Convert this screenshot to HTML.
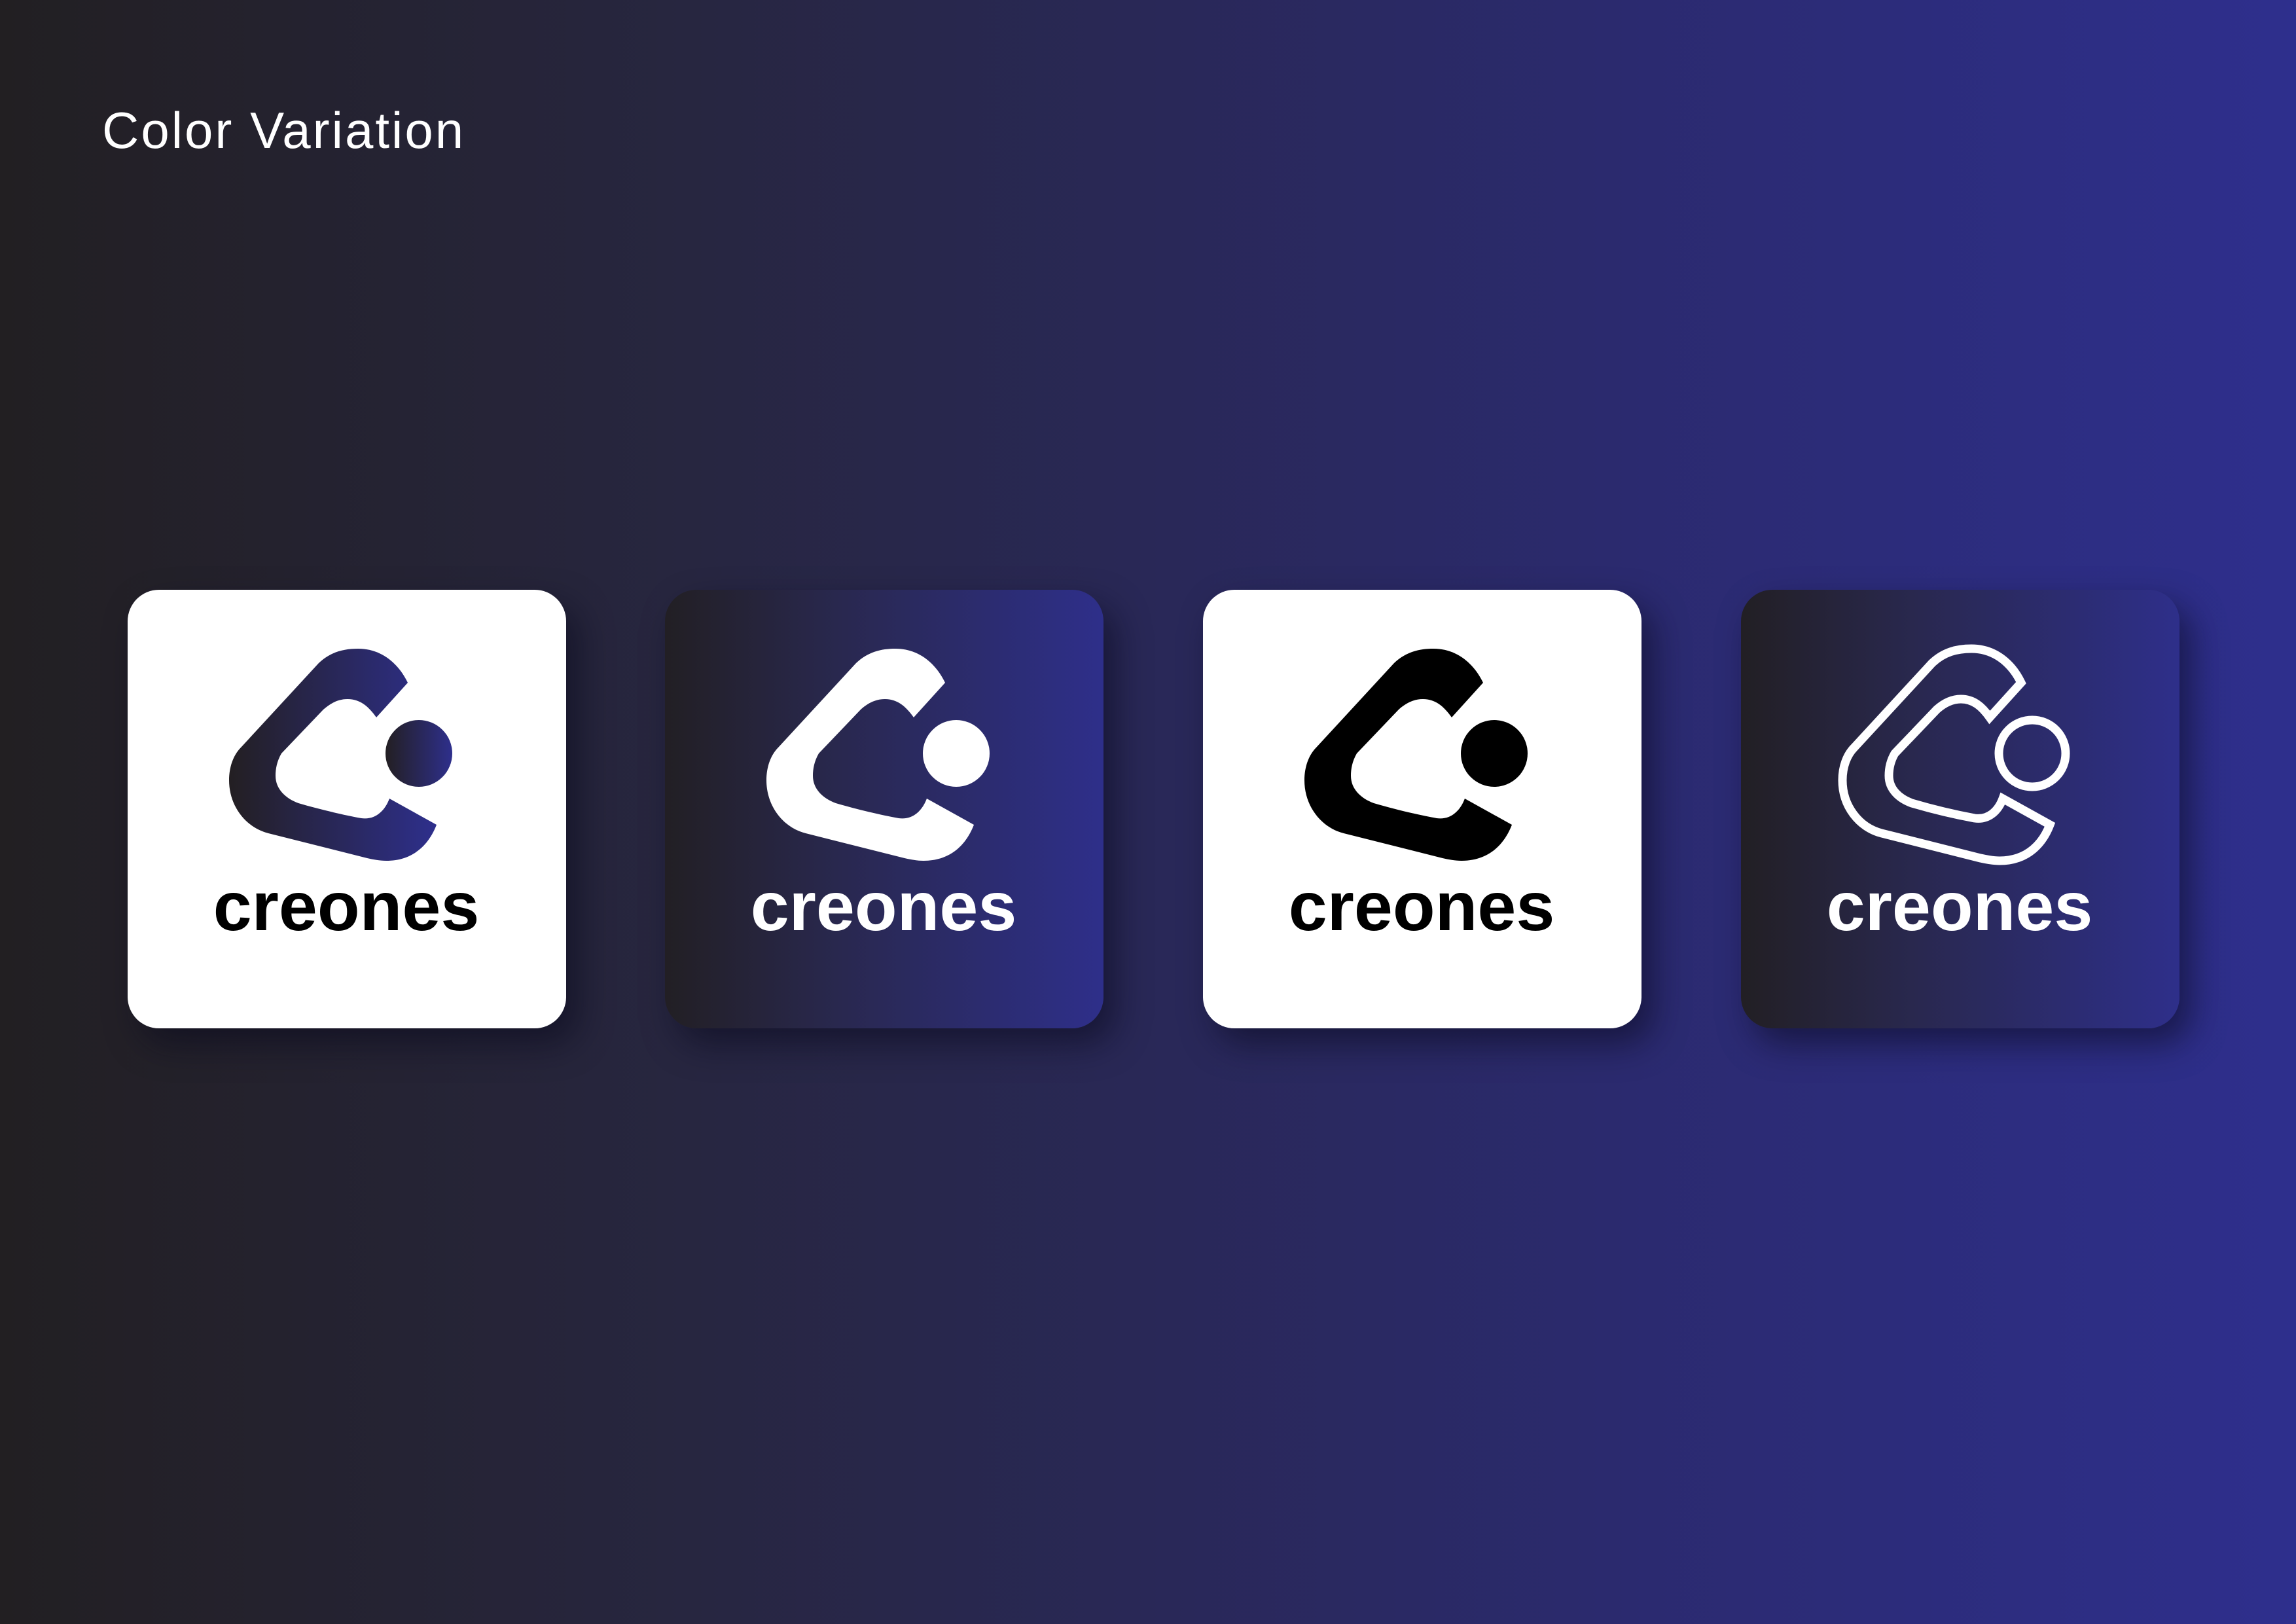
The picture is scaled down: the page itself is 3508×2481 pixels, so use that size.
<!DOCTYPE html>
<html><head><meta charset="utf-8"><style>
html,body{margin:0;padding:0}
body{width:3508px;height:2481px;overflow:hidden;background:linear-gradient(90deg,#221f22 0%,#272640 30%,#2b2a6e 70%,#2e2f8d 100%);position:relative;font-family:"Liberation Sans",sans-serif}
.title{position:absolute;left:156px;top:154px;font-size:78px;color:#fff;letter-spacing:3px;font-weight:normal}
.card{position:absolute;top:901px;width:670px;height:670px;border-radius:48px;box-shadow:18px 24px 50px rgba(10,10,30,.55)}
.w{background:#fff}
.g{background:linear-gradient(90deg,#221f24 0%,#29284f 40%,#2e2f8a 100%)}
.card svg{position:absolute;left:0;top:0}
.t{position:absolute;left:-16px;width:700px;text-align:center;top:431px;font-size:106px;font-weight:bold;line-height:1}
</style></head><body>
<div class="title">Color Variation</div>
<svg width="0" height="0" style="position:absolute"><defs>
<linearGradient id="lg" x1="0" x2="1" y1="0" y2="0"><stop offset="0" stop-color="#231f22"/><stop offset="1" stop-color="#2e2f8c"/></linearGradient>
<path id="lp" d="M292,112 C310,95 330,90 352,90 C390,90 415,115 428,142 L380,195 C368,178 355,167 336,167 C320,167 308,175 299,183 L235,250 C228,262 226,274 226,284 C226,305 242,319 261,326 C295,336 330,344 357,349 C378,352 393,338 400,319 L472,359 C462,385 440,414 395,414 C385,414 375,412 366,410 L215,372 C180,363 155,330 155,291 C155,270 162,252 173,241 Z"/>
</defs></svg>

<div class="card w" style="left:195px">
<svg width="670" height="670"><use href="#lp" fill="url(#lg)"/><circle cx="445" cy="250" r="51" fill="url(#lg)"/></svg>
<div class="t" style="color:#000">creones</div></div>

<div class="card g" style="left:1016px">
<svg width="670" height="670"><use href="#lp" fill="#fff"/><circle cx="445" cy="250" r="51" fill="#fff"/></svg>
<div class="t" style="color:#fff">creones</div></div>

<div class="card w" style="left:1838px">
<svg width="670" height="670"><use href="#lp" fill="#000"/><circle cx="445" cy="250" r="51" fill="#000"/></svg>
<div class="t" style="color:#000">creones</div></div>

<div class="card g" style="left:2660px">
<svg width="670" height="670"><use href="#lp" fill="none" stroke="#fff" stroke-width="13"/><circle cx="445" cy="250" r="51" fill="none" stroke="#fff" stroke-width="13"/></svg>
<div class="t" style="color:#fff">creones</div></div>
</body></html>
